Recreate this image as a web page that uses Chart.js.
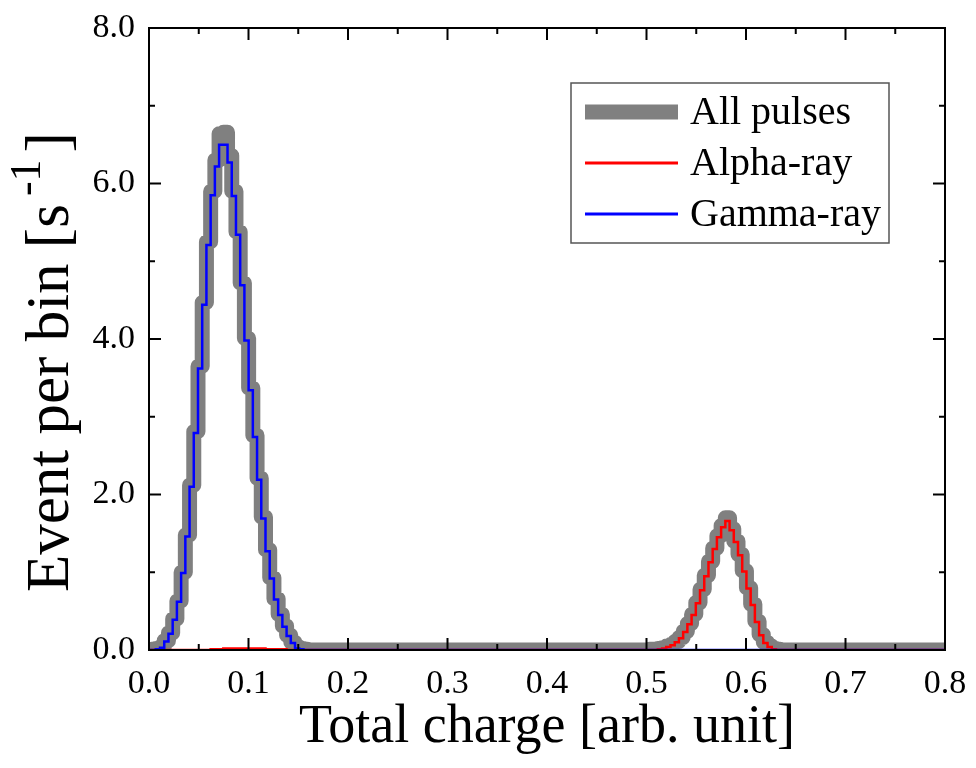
<!DOCTYPE html>
<html><head><meta charset="utf-8">
<script src="https://cdn.jsdelivr.net/npm/chart.js@4/dist/chart.umd.min.js"></script>
<style>html,body{margin:0;padding:0;background:#fff}#wrap{width:976px;height:768px}</style>
</head><body><div id="wrap"><canvas id="c" width="976" height="768"></canvas></div>
<script>
// ---- data ----
const binStart = 0.0026;
const binWidth = 0.00424;
const binCount = 189;

const gammaStartBin = 0;
const gammaRay = [0.00,0.01,0.03,0.11,0.21,0.39,0.62,0.99,1.46,2.10,2.79,3.62,4.44,5.21,5.85,6.22,6.50,6.50,
  6.27,5.84,5.34,4.69,3.98,3.34,2.74,2.19,1.69,1.27,0.92,0.65,0.45,0.30,0.18,0.09,0.02,0.01];

const alphaLowStartBin = 14;
const alphaLow = [0.01,0.01,0.01,0.02,0.02,0.02,0.02,0.02,0.02,0.02,0.02,0.02,0.02,0.01,0.01,0.01,0.01,0.01];
const alphaPeakStartBin = 120;
const alphaPeak = [0.01,0.02,0.04,0.06,0.10,0.15,0.23,0.33,0.45,0.60,0.77,0.95,1.13,1.30,1.45,1.58,1.66,
  1.54,1.39,1.22,1.01,0.79,0.58,0.36,0.19,0.09,0.04,0.01];

const allLowStartBin = 0;
const allLow = [0.01,0.02,0.04,0.12,0.22,0.40,0.63,1.00,1.48,2.12,2.81,3.65,4.47,5.25,5.90,6.30,6.64,6.66,
  6.36,5.90,5.38,4.72,4.01,3.37,2.76,2.21,1.71,1.29,0.93,0.66,0.46,0.31,0.19,0.10,0.04,0.02,0.01];
const allPeakStartBin = 118;
const allPeak = [0.01,0.01,0.02,0.03,0.05,0.07,0.11,0.16,0.24,0.34,0.46,0.61,0.78,0.96,1.14,1.31,1.47,1.60,1.70,
  1.56,1.40,1.23,1.02,0.80,0.59,0.37,0.20,0.10,0.05,0.02,0.01];

const seriesNames = ['All pulses', 'Alpha-ray', 'Gamma-ray'];
const xMajorTicks = [0.0,0.1,0.2,0.3,0.4,0.5,0.6,0.7,0.8];
const xMinorTicks = [0.05,0.15,0.25,0.35,0.45,0.55,0.65,0.75];
const yMajorTicks = [0,2,4,6,8];
const yMinorTicks = [1,3,5,7];
const xTitle = 'Total charge [arb. unit]';
const yTitleParts = ['Event per bin [s', '-1', ']'];

// ---- build histogram step points ----
function buildSteps(segments) {
  const vals = new Array(binCount).fill(0);
  segments.forEach(([start, arr]) => arr.forEach((v, i) => { vals[start + i] += v; }));
  const pts = [{x: 0, y: 0}];
  for (let i = 0; i < binCount; i++) pts.push({x: binStart + i * binWidth, y: vals[i]});
  pts.push({x: binStart + binCount * binWidth, y: vals[binCount - 1]});
  return pts;
}

const FONT = '"Liberation Serif", "Times New Roman", serif';

const framePlugin = {
  id: 'frame',
  afterDatasetsDraw(chart) {
    const {ctx, chartArea: {left, right, top, bottom}, scales: {x, y}} = chart;
    ctx.save();
    ctx.strokeStyle = '#000';
    ctx.lineWidth = 2;
    ctx.strokeRect(left, top, right - left, bottom - top);
    const tick = (x1, y1, x2, y2) => { ctx.beginPath(); ctx.moveTo(x1, y1); ctx.lineTo(x2, y2); ctx.stroke(); };
    const MAJ = 12, MIN = 6;
    xMajorTicks.forEach(v => { const p = x.getPixelForValue(v); tick(p, bottom, p, bottom - MAJ); tick(p, top, p, top + MAJ); });
    xMinorTicks.forEach(v => { const p = x.getPixelForValue(v); tick(p, bottom, p, bottom - MIN); tick(p, top, p, top + MIN); });
    yMajorTicks.forEach(v => { const p = y.getPixelForValue(v); tick(left, p, left + MAJ, p); tick(right, p, right - MAJ, p); });
    yMinorTicks.forEach(v => { const p = y.getPixelForValue(v); tick(left, p, left + MIN, p); tick(right, p, right - MIN, p); });

    // y-axis title with superscript
    ctx.save();
    ctx.translate(68, 592);
    ctx.rotate(-Math.PI / 2);
    ctx.fillStyle = '#000';
    ctx.textBaseline = 'alphabetic';
    ctx.textAlign = 'left';
    ctx.font = '61px ' + FONT;
    let cx = 0;
    ctx.fillText(yTitleParts[0], cx, 0);
    cx += ctx.measureText(yTitleParts[0]).width + 8;
    ctx.font = '44px ' + FONT;
    ctx.fillText(yTitleParts[1], cx, -28);
    cx += ctx.measureText(yTitleParts[1]).width + 7;
    ctx.font = '61px ' + FONT;
    ctx.fillText(yTitleParts[2], cx, 0);
    ctx.restore();

    // legend
    const lx = 571, ly = 83, lw = 318, lh = 160;
    ctx.fillStyle = '#fff';
    ctx.fillRect(lx, ly, lw, lh);
    ctx.strokeStyle = '#555';
    ctx.lineWidth = 1.5;
    ctx.strokeRect(lx, ly, lw, lh);
    const ds = chart.data.datasets;
    const rows = [112, 163, 214];
    ds.forEach((d, i) => {
      ctx.strokeStyle = d.borderColor;
      ctx.lineWidth = i === 0 ? 15 : 3;
      ctx.lineCap = 'butt';
      tick(585, rows[i], 678, rows[i]);
      ctx.fillStyle = '#000';
      ctx.font = '40px ' + FONT;
      ctx.textBaseline = 'middle';
      ctx.textAlign = 'left';
      ctx.fillText(d.label, 690, rows[i] + 1);
    });
    ctx.restore();
  }
};

const noPad = s => { s.paddingTop = 0; s.paddingBottom = 0; s.paddingLeft = 0; s.paddingRight = 0; };

new Chart(document.getElementById('c'), {
  type: 'line',
  data: {
    datasets: [
      {label: seriesNames[0], data: buildSteps([[allLowStartBin, allLow], [allPeakStartBin, allPeak]]),
       borderColor: '#808080', borderWidth: 15, stepped: 'before', pointRadius: 0, fill: false,
       borderJoinStyle: 'round', borderCapStyle: 'round', clip: 0, order: 3},
      {label: seriesNames[1], data: buildSteps([[alphaLowStartBin, alphaLow], [alphaPeakStartBin, alphaPeak]]),
       borderColor: '#ff0000', borderWidth: 2.5, stepped: 'before', pointRadius: 0, fill: false, clip: 0, order: 2},
      {label: seriesNames[2], data: buildSteps([[gammaStartBin, gammaRay]]),
       borderColor: '#0000ff', borderWidth: 2.5, stepped: 'before', pointRadius: 0, fill: false, clip: 0, order: 1}
    ]
  },
  options: {
    responsive: false,
    animation: false,
    devicePixelRatio: 1,
    layout: {padding: {top: 28, right: 31, left: 0, bottom: 0}},
    plugins: {legend: {display: false}, tooltip: {enabled: false}},
    scales: {
      x: {
        type: 'linear', min: 0, max: 0.8,
        afterFit: s => { s.height = 118; noPad(s); },
        afterBuildTicks: s => { s.ticks = xMajorTicks.map(v => ({value: v})); },
        grid: {display: false, drawTicks: false}, border: {display: false},
        ticks: {color: '#000', padding: 14, font: {family: FONT, size: 34}, callback: v => Number(v).toFixed(1), maxRotation: 0, autoSkip: false},
        title: {display: true, text: xTitle, color: '#000', font: {family: FONT, size: 54}, padding: {top: 0, bottom: 8}}
      },
      y: {
        type: 'linear', min: 0, max: 8,
        afterFit: s => { s.width = 149; noPad(s); },
        afterBuildTicks: s => { s.ticks = yMajorTicks.map(v => ({value: v})); },
        grid: {display: false, drawTicks: false}, border: {display: false},
        ticks: {color: '#000', padding: 14, font: {family: FONT, size: 34}, callback: v => Number(v).toFixed(1)},
        title: {display: false}
      }
    }
  },
  plugins: [framePlugin]
});
</script>
</body></html>
